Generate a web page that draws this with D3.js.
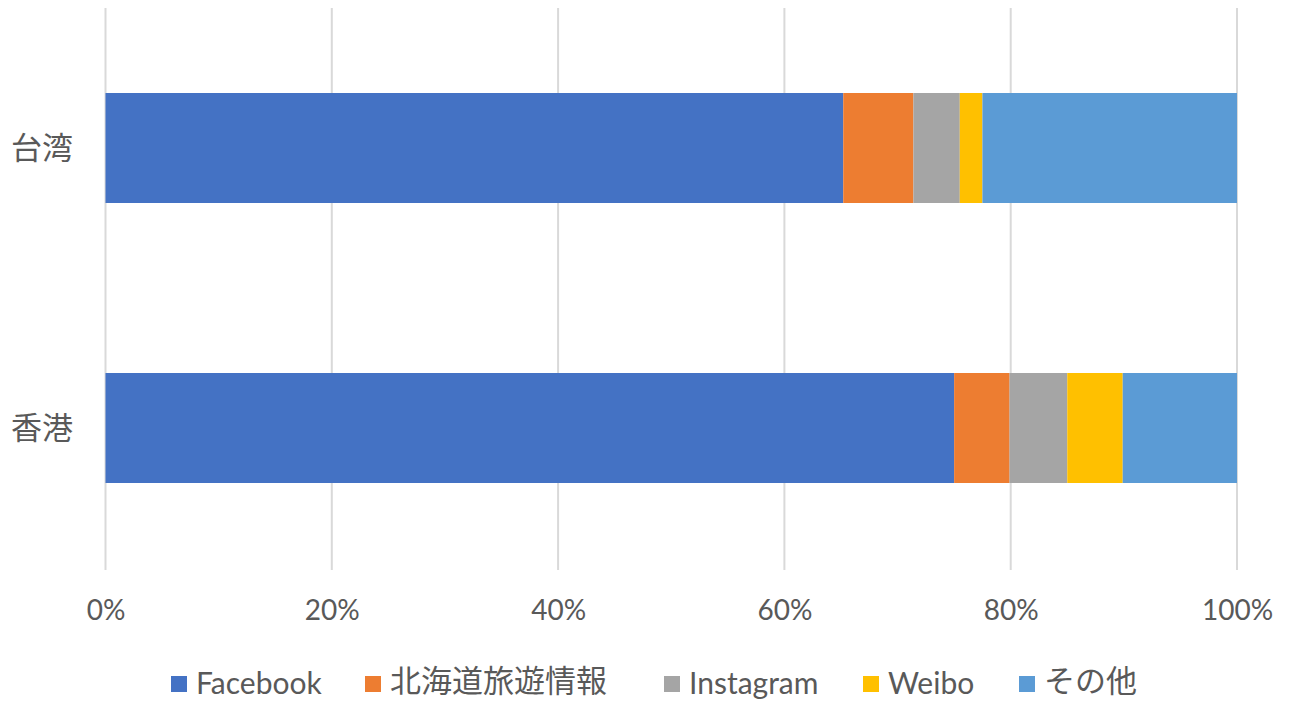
<!DOCTYPE html>
<html><head><meta charset="utf-8">
<script src="https://cdn.jsdelivr.net/npm/d3@7"></script>
<style>
body{margin:0;background:#fff;overflow:hidden;}
text{fill:#595959;}
</style></head>
<body>
<svg id="c" width="1291" height="702"></svg>
<script>
const categories = ["台湾", "香港"];
const seriesNames = ["Facebook", "北海道旅遊情報", "Instagram", "Weibo", "その他"];
const colors = ["#4472C4", "#ED7D31", "#A5A5A5", "#FFC000", "#5B9BD5"];
const facebook = [65.2, 75.0];
const hokkaido = [6.2, 4.9];
const instagram = [4.1, 5.1];
const weibo = [2.0, 4.9];
const other = [22.5, 10.1];
const tickValues = [0, 0.2, 0.4, 0.6, 0.8, 1.0];

const seriesValues = [facebook, hokkaido, instagram, weibo, other];
const rows = categories.map((c, i) => {
  const r = {cat: c};
  seriesNames.forEach((s, j) => r[s] = seriesValues[j][i]);
  return r;
});
const stack = d3.stack().keys(seriesNames).offset(d3.stackOffsetExpand);
const layers = stack(rows);

const svg = d3.select("#c");
const latin = "Lato, 'Open Sans', sans-serif";
const cjk = "'Noto Sans CJK JP', 'Noto Sans CJK SC', sans-serif";
const isCJK = s => /[\u3040-\u9fff]/.test(s);

const x = d3.scaleLinear().domain([0, 1]).range([105.5, 1237]);
const y = d3.scaleBand().domain(categories).range([8, 568]).paddingInner(170 / 280).paddingOuter(85 / 280);

// gridlines
svg.append("g").selectAll("line").data(tickValues).join("line")
  .attr("x1", d => x(d)).attr("x2", d => x(d))
  .attr("y1", 8).attr("y2", 570)
  .attr("stroke", "#d9d9d9").attr("stroke-width", 2);

// bars
svg.append("g").selectAll("g").data(layers).join("g")
  .attr("fill", (d, i) => colors[i])
  .selectAll("rect").data(d => d).join("rect")
  .attr("x", d => x(d[0]))
  .attr("width", d => x(d[1]) - x(d[0]))
  .attr("y", d => y(d.data.cat))
  .attr("height", y.bandwidth());

// x axis labels
const xAxis = d3.axisBottom(x).tickValues(tickValues).tickFormat(d3.format(".0%")).tickSize(0);
const gx = svg.append("g").attr("transform", "translate(0,590)").call(xAxis);
gx.select(".domain").remove();
gx.selectAll("text").attr("dy", 0).attr("y", 30)
  .style("font-family", latin).style("font-size", "28px").style("fill", "#595959");

// y axis labels
const yAxis = d3.axisLeft(y).tickSize(0);
const gy = svg.append("g").attr("transform", "translate(73,0)").call(yAxis);
gy.select(".domain").remove();
gy.selectAll("text").attr("x", 0).attr("dy", "0.35em")
  .style("font-family", cjk).style("font-size", "31px").style("fill", "#595959");

// legend
const legendX = [171, 365, 664, 863, 1019];
const leg = svg.append("g");
seriesNames.forEach((s, i) => {
  const g = leg.append("g").attr("transform", `translate(${legendX[i]},683)`);
  g.append("rect").attr("x", 0).attr("y", -7).attr("width", 16).attr("height", 16).attr("fill", colors[i]);
  g.append("text").attr("x", 25).attr("y", isCJK(s) ? -2 : 0).attr("dy", "0.35em").text(s)
    .style("font-family", isCJK(s) ? cjk : latin)
    .style("font-size", isCJK(s) ? "31px" : "30px");
});
</script>
</body></html>
